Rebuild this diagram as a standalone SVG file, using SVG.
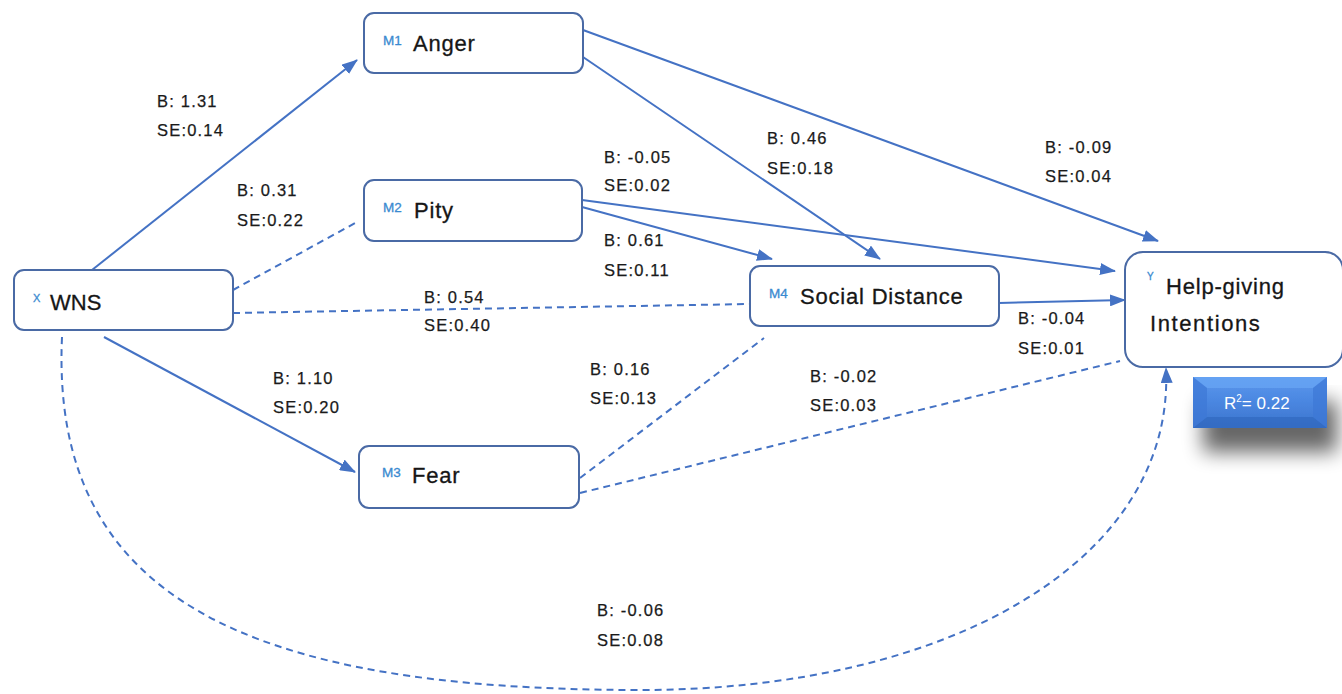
<svg xmlns="http://www.w3.org/2000/svg" width="1342" height="694" viewBox="0 0 1342 694">
  <defs>
    <marker id="arrow" viewBox="0 0 16 12" refX="15" refY="6" markerWidth="16" markerHeight="12" markerUnits="userSpaceOnUse" orient="auto">
      <path d="M0,0 L16,6 L0,12 Z" fill="#4472c4"/>
    </marker>
    <linearGradient id="r2fill" x1="0" y1="0" x2="0" y2="1">
      <stop offset="0" stop-color="#5b98ee"/>
      <stop offset="0.5" stop-color="#4a86e0"/>
      <stop offset="1" stop-color="#3b74cc"/>
    </linearGradient>
    <filter id="shadow" x="-30%" y="-30%" width="170%" height="220%">
      <feGaussianBlur in="SourceAlpha" stdDeviation="10"/>
      <feOffset dx="10" dy="24" result="b"/>
      <feComponentTransfer><feFuncA type="linear" slope="0.6"/></feComponentTransfer>
      <feMerge><feMergeNode/><feMergeNode in="SourceGraphic"/></feMerge>
    </filter>
    <style>
      .box { fill: #ffffff; stroke: #4a6aa5; stroke-width: 2; }
      .edge { fill: none; stroke: #4472c4; stroke-width: 2; }
      .dash { stroke-dasharray: 7 5; }
      .name { font-family: "Liberation Sans", Arial, sans-serif; font-size: 22px; letter-spacing: 0.8px; fill: #161616; stroke: #161616; stroke-width: 0.3px; }
      .tag { font-family: "Liberation Sans", Arial, sans-serif; font-size: 13.5px; fill: #3a8ad0; stroke: #3a8ad0; stroke-width: 0.3px; }
      .coef { font-family: "Liberation Sans", Arial, sans-serif; font-size: 16.5px; letter-spacing: 1.2px; fill: #1a1a1a; stroke: #1a1a1a; stroke-width: 0.25px; }
      .r2 { font-family: "Liberation Sans", Arial, sans-serif; font-size: 17px; fill: #ffffff; }
    </style>
  </defs>

  <rect width="1342" height="694" fill="#ffffff"/>

  <!-- paths between variables -->
  <g id="connectors">
    <line class="edge" x1="92" y1="270" x2="357" y2="60" marker-end="url(#arrow)"/>
    <line class="edge dash" x1="233" y1="290" x2="357" y2="222"/>
    <line class="edge dash" x1="233" y1="313" x2="749" y2="304"/>
    <line class="edge" x1="104" y1="337" x2="355" y2="472" marker-end="url(#arrow)"/>
    <line class="edge" x1="583" y1="30" x2="1158" y2="241" marker-end="url(#arrow)"/>
    <line class="edge" x1="583" y1="57" x2="880" y2="259" marker-end="url(#arrow)"/>
    <line class="edge" x1="582" y1="200" x2="1115" y2="271" marker-end="url(#arrow)"/>
    <line class="edge" x1="582" y1="207" x2="772" y2="259" marker-end="url(#arrow)"/>
    <line class="edge" x1="999" y1="303" x2="1125" y2="300" marker-end="url(#arrow)"/>
    <line class="edge dash" x1="580" y1="478" x2="764" y2="338"/>
    <line class="edge dash" x1="580" y1="493" x2="1120" y2="361"/>
    <path class="edge dash" d="M62,337 C50,600 250,690 640,690 C950,690 1175,560 1166,368" marker-end="url(#arrow)"/>
  </g>

  <!-- coefficient labels -->
  <g id="coefficients">
    <text class="coef" x="157" y="107">B: 1.31</text>
    <text class="coef" x="157" y="136">SE:0.14</text>
    <text class="coef" x="237" y="196">B: 0.31</text>
    <text class="coef" x="237" y="226">SE:0.22</text>
    <text class="coef" x="604" y="163">B: -0.05</text>
    <text class="coef" x="604" y="191">SE:0.02</text>
    <text class="coef" x="767" y="144">B: 0.46</text>
    <text class="coef" x="767" y="174">SE:0.18</text>
    <text class="coef" x="1045" y="153">B: -0.09</text>
    <text class="coef" x="1045" y="182">SE:0.04</text>
    <text class="coef" x="604" y="246">B: 0.61</text>
    <text class="coef" x="604" y="276">SE:0.11</text>
    <text class="coef" x="424" y="303">B: 0.54</text>
    <text class="coef" x="424" y="331">SE:0.40</text>
    <text class="coef" x="1018" y="324">B: -0.04</text>
    <text class="coef" x="1018" y="354">SE:0.01</text>
    <text class="coef" x="273" y="384">B: 1.10</text>
    <text class="coef" x="273" y="413">SE:0.20</text>
    <text class="coef" x="590" y="375">B: 0.16</text>
    <text class="coef" x="590" y="404">SE:0.13</text>
    <text class="coef" x="810" y="382">B: -0.02</text>
    <text class="coef" x="810" y="411">SE:0.03</text>
    <text class="coef" x="597" y="616">B: -0.06</text>
    <text class="coef" x="597" y="646">SE:0.08</text>
  </g>

  <g id="node-wns">
    <rect class="box" x="14" y="270" width="219" height="60" rx="10"/>
    <text class="tag" x="33" y="302" style="font-size:11px">X</text>
    <text class="name" x="50" y="310" style="letter-spacing:0">WNS</text>
  </g>

  <g id="node-anger">
    <rect class="box" x="364" y="13" width="219" height="60" rx="10"/>
    <text class="tag" x="383" y="45">M1</text>
    <text class="name" x="413" y="51">Anger</text>
  </g>

  <g id="node-pity">
    <rect class="box" x="364" y="180" width="218" height="61" rx="10"/>
    <text class="tag" x="383" y="212">M2</text>
    <text class="name" x="414" y="218">Pity</text>
  </g>

  <g id="node-social-distance">
    <rect class="box" x="750" y="266" width="249" height="60" rx="10"/>
    <text class="tag" x="769" y="298">M4</text>
    <text class="name" x="800" y="304">Social Distance</text>
  </g>

  <g id="node-fear">
    <rect class="box" x="359" y="446" width="220" height="62" rx="10"/>
    <text class="tag" x="382" y="477">M3</text>
    <text class="name" x="412" y="483">Fear</text>
  </g>

  <g id="node-help-giving">
    <rect class="box" x="1125" y="252" width="218" height="115" rx="18"/>
    <text class="tag" x="1147" y="280" style="font-size:10px">Y</text>
    <text class="name" x="1166" y="294">Help-giving</text>
    <text class="name" x="1150" y="331" style="letter-spacing:1.6px">Intentions</text>
  </g>

  <g id="r-squared">
    <rect x="1193" y="377" width="134" height="51" fill="url(#r2fill)" filter="url(#shadow)"/>
    <polygon points="1193,377 1327,377 1313,388 1207,388" fill="#6aa6f5" opacity="0.7"/>
    <polygon points="1193,428 1327,428 1313,417 1207,417" fill="#2f66bd" opacity="0.6"/>
    <polygon points="1193,377 1207,388 1207,417 1193,428" fill="#3d78d6" opacity="0.7"/>
    <polygon points="1327,377 1313,388 1313,417 1327,428" fill="#3d78d6" opacity="0.7"/>
    <text class="r2" x="1224" y="409">R<tspan dy="-7" font-size="10">2</tspan><tspan dy="7">= 0.22</tspan></text>
  </g>
</svg>
